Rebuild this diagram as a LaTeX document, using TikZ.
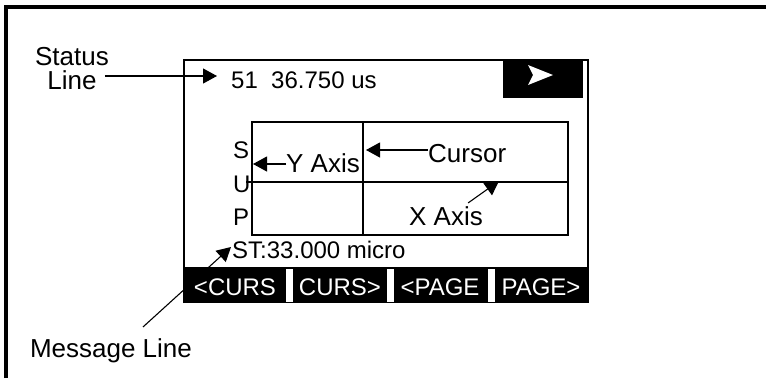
\documentclass[tikz,border=0pt]{standalone}
\usepackage{fontspec}
\setmainfont{Liberation Sans}
\usetikzlibrary{arrows.meta}

\begin{document}
\begin{tikzpicture}[x=1pt,y=-1pt,
  lbl/.style={inner sep=0pt,font=\fontsize{26}{24}\selectfont},
  scr/.style={inner sep=0pt,font=\fontsize{24}{24}\selectfont},
  key/.style={scr,text=white,anchor=base},
  callout/.style={line width=1.1pt,-{Triangle[length=14pt,width=15pt]}},
  box/.style={line width=2pt}]
\useasboundingbox (0,0) rectangle (766,378);
% outer frame, only top and left edge
\draw[line width=4pt] (6,378) -- (6,7) -- (766,7);
% display outline and run marker
\draw[box] (184,303) -- (184,60) -- (588,60) -- (588,303);
\fill (503,60) rectangle (583,98);
\fill[white] (528,65) -- (553,75) -- (528,85) -- (533,75) -- cycle;
% plot area
\draw[box] (252,122) rectangle (568,235);
\draw[box] (246,182) -- (568,182);
\draw[box] (363,122) -- (363,235);
% display text
\node[scr,anchor=base west] (status) at (231,88) {51~~36.750 us};
\node[scr,anchor=base west] (s) at (233,158) {S};
\node[scr,anchor=base west] (u) at (233,192) {U};
\node[scr,anchor=base west] (p) at (233,225) {P};
\node[scr,anchor=base west] (msg) at (232,258) {ST:33.000 micro};
% labels
\node[lbl,anchor=base] (stat) at (72,65) {Status};
\node[lbl,anchor=base] (line) at (72,89) {Line};
\node[lbl,anchor=base west] (cursor) at (428,162) {Cursor};
\node[lbl,anchor=base west] (yaxis) at (286,172) {Y Axis};
\node[lbl,anchor=base west] (xaxis) at (409,225) {X Axis};
\node[lbl,anchor=base] (msglbl) at (111,357) {Message Line};
% callouts
\coordinate (statustip) at (217,76);
\coordinate (cursortip) at (366,150);
\coordinate (ytip) at (253,164);
\coordinate (xtip) at (499,181);
\coordinate (msgtip) at (231,247);
\draw[callout] (statustip -| line.east) ++(8,0) -- (statustip);
\draw[callout] (cursor.west |- cursortip) -- (cursortip);
\draw[callout] (yaxis.west |- ytip) -- (ytip);
\draw[callout] ([xshift=-15pt,yshift=3pt]xaxis.north east) -- (xtip);
\draw[callout] ([xshift=32pt,yshift=11pt]msglbl.north) -- (msgtip);
% soft keys
\fill (184,267) rectangle (589,303);
\foreach \x in {286,387,488}
  \fill[white] (\x,269) rectangle ++(7,33);
\node[key] (kcl) at (235,295) {<CURS};
\node[key] (kcr) at (340,295) {CURS>};
\node[key] (kpl) at (440,295) {<PAGE};
\node[key] (kpr) at (541,295) {PAGE>};
\end{tikzpicture}
\end{document}
